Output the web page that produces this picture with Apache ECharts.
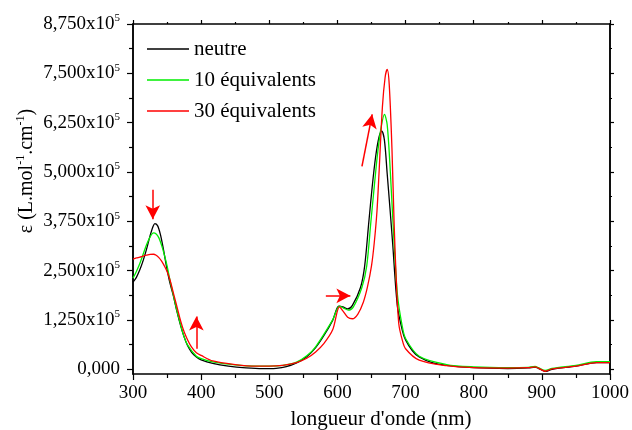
<!DOCTYPE html>
<html><head><meta charset="utf-8">
<script src="https://cdn.jsdelivr.net/npm/echarts@6/dist/echarts.min.js"></script>
<style>html,body{margin:0;padding:0;background:#fff}#c{width:632px;height:430px}</style>
</head><body><div id="c"></div>
<script>
const seriesNames = ['neutre', '10 équivalents', '30 équivalents'];
const seriesColors = ['#000000', '#00ee00', '#ff0000'];

const wlNeutre = [300,305,310,315,320,325,329,332,336,340,344,349,354,359,364,370,375,380,386,393,400,417,440,466,490,510,525,540,555,568,580,593,602,608,615,622,634,640,646,651,656,661,665,669,673,677,681,688,695,700,710,720,740,760,800,850,880,890,895,905,915,950,980,1000];
const epsNeutre = [221000,233000,252000,276000,305000,338000,360000,369000,364000,343000,310000,262000,220000,188000,150000,110000,82000,60000,43000,31000,24000,15000,8000,3500,1500,2500,6500,16000,32000,55000,85000,124000,160000,158000,153000,162000,208000,262000,372000,462000,538000,588000,604000,580000,496000,410000,320000,160000,100000,74000,47000,31000,16000,10000,4000,2000,3500,5500,2500,-5500,0,8000,17000,17000];

const wl10 = [300,305,310,315,320,325,330,334,338,342,346,350,354,359,364,370,375,380,393,400,417,450,480,500,520,540,555,568,593,603,609,616,623,636,643,649,654,659,664,669,673,677,681,688,695,700,720,760,800,850,880,890,895,905,915,950,980,1000];
const eps10 = [231000,248000,268000,292000,316000,335000,345500,343000,333000,314000,290000,262000,228000,190000,152000,112000,82000,62000,33000,27000,19000,11000,8000,8000,10000,18000,34000,57000,125000,160000,155000,150000,157000,208000,262000,372000,462000,548000,612000,646000,620000,520000,390000,190000,110000,78000,33000,12000,6000,4000,5000,7000,4000,-3000,2000,10000,19000,19000];

const wl30 = [300,305,310,315,320,325,330,334,338,342,346,350,354,359,364,370,375,380,386,393,400,417,450,480,500,520,540,555,568,580,593,603,608,615,622,630,638,644,650,654,658,661,666,670,673,676,680,683,686,690,695,700,720,760,800,850,880,890,895,905,915,950,980,1000];
const eps30 = [279000,282000,284000,287000,289000,291000,291500,289000,283000,274000,262000,248000,228000,195000,162000,122000,95000,75000,56000,42000,35000,21000,12000,8000,8000,10000,17000,28000,44000,65000,100000,158000,148000,132000,128000,140000,170000,208000,262000,320000,400000,496000,665000,740000,760000,722000,560000,380000,240000,116000,75000,52000,23000,9000,4000,3000,4000,6000,3000,-5000,1000,8000,17000,17000];

const yTickValues = [0, 125000, 250000, 375000, 500000, 625000, 750000, 875000];
const yTickLabels = ['0,000', '1,250x10', '2,500x10', '3,750x10', '5,000x10', '6,250x10', '7,500x10', '8,750x10'];
const yMinorValues = [62500, 187500, 312500, 437500, 562500, 687500, 812500];
const yExponent = '5';

// annotation arrows: [start, end] in data coordinates
const arrows = [
  [[329, 455000], [329, 380000]],
  [[393, 52000], [393, 134000]],
  [[583, 186000], [619, 186000]],
  [[636, 514000], [651, 646000]]
];

const FONT = "'Liberation Serif', 'Times New Roman', serif";
const toXY = (xs, ys) => xs.map((x, i) => [x, ys[i]]);

const chart = echarts.init(document.getElementById('c'), null, {renderer: 'canvas'});
const YMIN = -12000, YMAX = 875000;

const baseY = {
  type: 'value', min: YMIN, max: YMAX, splitLine: {show: false},
  axisLine: {show: true, lineStyle: {color: '#000', width: 1.5}}
};

chart.setOption({
  animation: false,
  backgroundColor: '#fff',
  grid: {left: 133, right: 20, top: 24, bottom: 56, containLabel: false},
  legend: {
    orient: 'vertical', left: 142, top: 32, itemWidth: 42, itemHeight: 1.5, itemGap: 7,
    icon: 'rect', data: seriesNames,
    textStyle: {fontFamily: FONT, fontSize: 21, color: '#000', lineHeight: 24}
  },
  xAxis: [
    {type: 'value', min: 300, max: 1000, interval: 100, position: 'bottom',
     splitLine: {show: false},
     axisLine: {show: true, onZero: false, lineStyle: {color: '#000', width: 1.5}},
     axisTick: {show: true, inside: false, length: 6, lineStyle: {color: '#000', width: 1.2}},
     minorTick: {show: true, splitNumber: 2, length: 4, lineStyle: {color: '#000', width: 1.2}},
     axisLabel: {margin: 10, fontFamily: FONT, fontSize: 19, color: '#000', formatter: v => String(v)}},
    {type: 'value', min: 300, max: 1000, interval: 100, position: 'top',
     splitLine: {show: false},
     axisLine: {show: true, onZero: false, lineStyle: {color: '#000', width: 1.5}},
     axisTick: {show: true, inside: false, length: 4, lineStyle: {color: '#000', width: 1.2}},
     minorTick: {show: true, splitNumber: 2, length: 2, lineStyle: {color: '#000', width: 1.2}},
     axisLabel: {show: false}}
  ],
  yAxis: [
    Object.assign({}, baseY, {position: 'left',
      axisTick: {show: true, inside: false, length: 6, customValues: yTickValues, lineStyle: {color: '#000', width: 1.2}},
      axisLabel: {margin: 13, customValues: yTickValues, fontFamily: FONT, fontSize: 19, color: '#000',
        formatter: v => {
          const i = yTickValues.indexOf(v);
          if (i < 0) return '';
          if (v === 0) return '{b|' + yTickLabels[i] + '}';
          return '{b|' + yTickLabels[i] + '}{s|' + yExponent + '}';
        },
        rich: {
          b: {fontFamily: FONT, fontSize: 19, color: '#000', lineHeight: 22},
          s: {fontFamily: FONT, fontSize: 11, color: '#000', lineHeight: 11, verticalAlign: 'top'}
        }}}),
    Object.assign({}, baseY, {position: 'left',
      axisTick: {show: true, inside: false, length: 4, customValues: yMinorValues, lineStyle: {color: '#000', width: 1.2}},
      axisLabel: {show: false}}),
    Object.assign({}, baseY, {position: 'right',
      axisTick: {show: true, inside: false, length: 4, customValues: yTickValues, lineStyle: {color: '#000', width: 1.2}},
      axisLabel: {show: false}}),
    Object.assign({}, baseY, {position: 'right',
      axisTick: {show: true, inside: false, length: 2, customValues: yMinorValues, lineStyle: {color: '#000', width: 1.2}},
      axisLabel: {show: false}})
  ],
  series: [
    {name: seriesNames[0], type: 'line', data: toXY(wlNeutre, epsNeutre), smooth: 0.3, showSymbol: false, symbol: 'none',
     xAxisIndex: 0, yAxisIndex: 0, z: 3, lineStyle: {color: seriesColors[0], width: 1.3}, itemStyle: {color: seriesColors[0]}},
    {name: seriesNames[1], type: 'line', data: toXY(wl10, eps10), smooth: 0.3, showSymbol: false, symbol: 'none',
     xAxisIndex: 0, yAxisIndex: 0, z: 4, lineStyle: {color: seriesColors[1], width: 1.3}, itemStyle: {color: seriesColors[1]}},
    {name: seriesNames[2], type: 'line', data: toXY(wl30, eps30), smooth: 0.3, showSymbol: false, symbol: 'none',
     xAxisIndex: 0, yAxisIndex: 0, z: 5, lineStyle: {color: seriesColors[2], width: 1.3}, itemStyle: {color: seriesColors[2]},
     markLine: {
       silent: true, symbol: ['none', 'arrow'], symbolSize: [11, 14],
       label: {show: false},
       lineStyle: {color: '#ff0000', width: 1.5, type: 'solid'},
       data: arrows.map(a => [{coord: a[0]}, {coord: a[1]}])
     }}
  ],
  graphic: [
    {type: 'text', x: 381, y: 419, style: {text: "longueur d'onde (nm)", font: "21px " + FONT, fill: '#000', align: 'center', verticalAlign: 'middle'}},
    {type: 'text', x: 27, y: 171, rotation: Math.PI / 2,
     style: {text: '{b|ε (L.mol}{s|-1}{b|.cm}{s|-1}{b|)}', align: 'center', verticalAlign: 'middle',
       rich: {b: {fontFamily: FONT, fontSize: 20, fill: '#000', lineHeight: 24},
              s: {fontFamily: FONT, fontSize: 12, fill: '#000', lineHeight: 12, verticalAlign: 'top'}}}}
  ]
});
</script></body></html>
